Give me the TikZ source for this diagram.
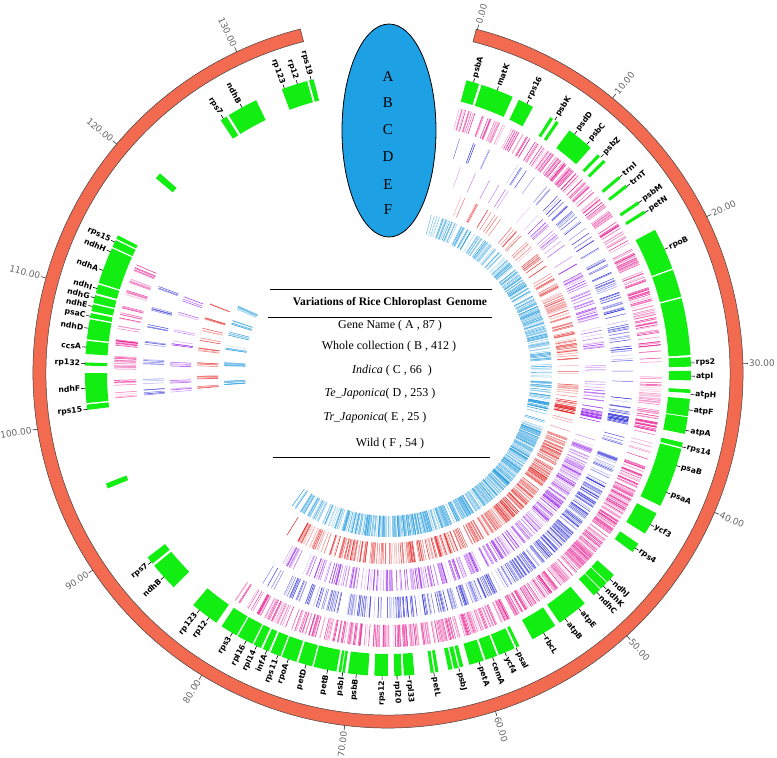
\documentclass[tikz,border=0pt]{standalone}
\usepackage{fontspec}
\setmainfont{Liberation Serif}
\newfontfamily\dejavu{DejaVu Sans}
\definecolor{ringred}{RGB}{242,106,80}
\definecolor{genegreen}{RGB}{18,238,18}
\definecolor{ellblue}{RGB}{30,160,228}
\definecolor{tpink}{RGB}{232,20,140}
\definecolor{tblue}{RGB}{35,35,215}
\definecolor{tpurple}{RGB}{150,35,235}
\definecolor{tred}{RGB}{228,30,30}
\definecolor{tlblue}{RGB}{25,150,220}
% gene sector
\newcommand\gsec[2]{\fill[genegreen] ({90-(#1)}:281pt) arc[start angle={90-(#1)}, end angle={90-(#2)}, radius=281pt] -- ({90-(#2)}:303pt) arc[start angle={90-(#2)}, end angle={90-(#1)}, radius=303pt] -- cycle;}
% gene labels, right and left half
\newcommand\glR[3]{\draw[gtick] ({90-(#1)}:303pt) -- ({90-(#1)}:307pt) node[glab, anchor=west, rotate={90-(#1)}] (#3) {#2};}
\newcommand\glL[3]{\draw[gtick] ({90-(#1)}:303pt) -- ({90-(#1)}:307pt) node[glab, anchor=east, rotate={270-(#1)}] (#3) {#2};}
% variation marks
\newcommand\mk[6]{\foreach \qi in {1,...,#6}{\pgfmathsetmacro\qth{(#4)+rnd*((#5)-(#4))}\pgfmathtruncatemacro\qp{22+78*rnd}\draw[#1!\qp!white, line width=0.5pt] ({90-\qth}:#2pt) -- ({90-\qth}:#3pt);}}
\newcommand\mkd[6]{\foreach \qi in {1,...,#6}{\pgfmathsetmacro\qth{(#4)+rnd*((#5)-(#4))}\pgfmathtruncatemacro\qp{70+30*rnd}\draw[#1!\qp!white, line width=0.6pt] ({90-\qth}:#2pt) -- ({90-\qth}:#3pt);}}
\newcommand\track[5]{\foreach \qa/\qb/\qn in {#4}{\mk{#1}{#2}{#3}{\qa}{\qb}{\qn}}\foreach \qc/\qn in {#5}{\mk{#1}{#2}{#3}{\qc-0.7}{\qc+0.7}{\qn}}}
\begin{document}
\begin{tikzpicture}[x=1pt,y=1pt,
  glab/.style={font=\dejavu\bfseries\fontsize{7.7}{8.5}\selectfont, inner sep=0.8pt},
  gtick/.style={line width=0.6pt, black},
  scalelab/.style={font=\dejavu\fontsize{9}{10}\selectfont, text=black!60, inner sep=0.8pt},
  ctext/.style={font=\fontsize{12}{14}\selectfont, inner sep=0pt},
  rulel/.style={line width=0.9pt, black}]
\useasboundingbox (-388,-385) rectangle (389,373);
\pgfmathsetseed{7}
% outer ring
\draw[fill=ringred, draw=black!75, line width=0.5pt] ({90-14.4}:342pt) arc[start angle={90-14.4}, end angle={90-345.7}, radius=342pt] -- ({90-345.7}:355pt) arc[start angle={90-345.7}, end angle={90-14.4}, radius=355pt] -- cycle;
% scale ticks
\foreach \k in {0,...,6}{\pgfmathsetmacro\qt{14.6+24.63*\k}\pgfmathtruncatemacro\qv{\k*10}
  \draw[line width=0.6pt, black!80] ({90-\qt}:355pt) -- ({90-\qt}:360pt) node[scalelab, anchor=west, rotate={90-\qt}] (s\k) {\qv.00};}
\foreach \k in {7,...,13}{\pgfmathsetmacro\qt{14.6+24.63*\k}\pgfmathtruncatemacro\qv{\k*10}
  \draw[line width=0.6pt, black!80] ({90-\qt}:355pt) -- ({90-\qt}:360pt) node[scalelab, anchor=east, rotate={270-\qt}] (s\k) {\qv.00};}
% variation tracks
\track{tpink}{252}{274}{15/35/50,35/62/95,62/86/90,86/92/4,92/100/30,103/110/6,110/150/230,150/180/150,180/200/80,200/214/35}{292.6/8,289.8/6,287/7,283.9/5,282.1/6,279.4/3,276.5/10,273/8,271.5/8,267.8/5,265.2/4}
\mkd{tpink}{252}{274}{100.3}{102.4}{14}
\track{tblue}{224}{245}{15/40/10,40/62/25,62/86/50,86/92/3,92/100/12,103/110/4,110/150/160,150/180/90,180/200/50,200/212/15}{290/3,285/4,281/3,277/4,272.5/6,268/4,265.5/5}
\mkd{tblue}{224}{245}{100.3}{102.2}{12}
\track{tpurple}{197}{218}{15/45/8,45/62/18,62/86/40,86/92/3,92/100/12,103/110/3,110/150/160,150/180/90,180/200/50,200/211/14}{290/3,286/3,281/3,278/4,272.5/5,268/4,265.5/4}
\mkd{tpurple}{197}{218}{100.3}{102.4}{12}
\track{tred}{170}{191}{15/40/10,40/62/25,62/86/65,86/92/3,92/100/14,103/110/3,110/150/180,150/180/100,180/200/60,200/212/22}{291/3,286.5/5,283/4,280/3,277/5,272.5/6,268.5/5,266/4}
\mkd{tred}{170}{191}{100.3}{102.4}{14}
\track{tlblue}{143}{164}{15/35/45,35/62/80,62/86/90,86/92/10,92/100/25,103/110/5,110/150/220,150/180/160,180/200/90,200/216/35}{293.5/8,288/6,284/6,279/6,273/12,266.5/10}
\mkd{tlblue}{143}{164}{100.2}{102.8}{15}
% gene blocks
\gsec{15.0}{17.5}\gsec{18.0}{24.3}\gsec{25.6}{28.6}
\gsec{32.4}{33.0}\gsec{33.7}{34.3}\gsec{36.8}{42.0}
\gsec{43.8}{44.4}\gsec{45.3}{45.9}\gsec{49.5}{50.1}\gsec{51.6}{52.2}
\gsec{55.5}{56.1}\gsec{57.6}{58.2}
\gsec{61.8}{69.8}\gsec{70.1}{75.4}\gsec{75.7}{86.6}
\gsec{87.0}{88.8}\gsec{89.6}{91.4}\gsec{93.1}{93.8}\gsec{94.9}{98.2}\gsec{98.4}{101.6}
\gsec{103.3}{104.2}\gsec{104.5}{116.0}\gsec{117.6}{122.0}\gsec{124.3}{126.2}
\gsec{131.8}{133.6}\gsec{133.8}{135.4}\gsec{135.6}{137.2}
\gsec{139.5}{145.5}\gsec{146.5}{151.5}
\gsec{154.3}{154.9}\gsec{155.3}{158.5}\gsec{158.9}{161.2}\gsec{161.6}{164.4}
\gsec{165.6}{166.3}\gsec{166.6}{167.4}\gsec{167.7}{168.5}
\gsec{170.4}{171.0}\gsec{171.3}{171.9}
\gsec{175.0}{177.0}\gsec{177.4}{178.8}\gsec{180.0}{182.6}
\gsec{183.8}{187.6}\gsec{188.2}{188.7}\gsec{188.9}{189.4}
\gsec{189.8}{194.2}\gsec{194.5}{197.2}\gsec{197.6}{200.5}\gsec{200.8}{202.8}
\gsec{203.2}{204.4}\gsec{204.8}{206.3}\gsec{206.6}{209.7}\gsec{210.0}{213.3}
\gsec{214.5}{220.0}\gsec{225.0}{230.5}\gsec{231.0}{232.5}
\gsec{247.6}{248.6}
\gsec{263.0}{264.0}\gsec{264.3}{270.0}\gsec{271.4}{272.0}\gsec{273.6}{276.1}
\gsec{276.4}{280.2}\gsec{280.5}{281.4}\gsec{281.8}{283.1}\gsec{283.4}{284.9}
\gsec{285.3}{287.0}\gsec{287.3}{294.3}\gsec{294.6}{296.0}\gsec{296.3}{297.0}
\gsec{310.0}{311.2}\gsec{326.5}{327.8}\gsec{328.3}{334.2}
\gsec{339.5}{344.5}\gsec{344.9}{345.8}
% gene labels
\glR{16.4}{psbA}{g1}\glR{21.1}{matK}{g2}\glR{27.3}{rps16}{g3}\glR{33.4}{psbK}{g4}
\glR{38.0}{psdD}{g5}\glR{41.0}{psbC}{g6}\glR{44.6}{psbZ}{g7}\glR{49.8}{trnI}{g8}
\glR{52.0}{trnT}{g9}\glR{55.8}{psbM}{g10}\glR{58.0}{petN}{g11}\glR{65.9}{rpoB}{g12}
\glR{88.1}{rps2}{g13}\glR{90.6}{atpI}{g14}\glR{94.0}{atpH}{g15}\glR{97.0}{atpF}{g16}
\glR{100.9}{atpA}{g17}\glR{104.1}{rps14}{g18}\glR{107.8}{psaB}{g19}\glR{113.2}{psaA}{g20}
\glR{120.0}{ycf3}{g21}\glR{125.3}{rps4}{g22}\glR{132.9}{ndhJ}{g23}\glR{134.7}{ndhK}{g24}
\glR{136.4}{ndhC}{g25}\glR{141.0}{atpE}{g26}\glR{144.2}{atpB}{g27}\glR{149.1}{rbcL}{g28}
\glR{155.0}{psaI}{g29}\glR{157.3}{ycf4}{g30}\glR{159.8}{cemA}{g31}\glR{162.5}{petA}{g32}
\glR{166.5}{psbJ}{g33}\glR{171.3}{petL}{g34}\glR{176.0}{rpl33}{g35}\glR{178.3}{rpl20}{g36}
\glL{181.1}{rps12}{g37}\glL{186.0}{psbB}{g38}\glL{188.6}{psbI}{g39}\glL{191.5}{petB}{g40}
\glL{195.7}{petD}{g41}\glL{199.2}{rpoA}{g42}\glL{201.3}{rps11}{g43}\glL{203.6}{infA}{g44}
\glL{205.7}{rpl14}{g45}\glL{207.9}{rpl16}{g46}\glL{210.9}{rps3}{g47}
\glL{216.2}{rp12}{g48}\glL{218.5}{rp123}{g49}\glL{227.7}{ndhB}{g50}\glL{231.4}{rps7}{g51}
\glL{263.1}{rps15}{g52}\glL{267.1}{ndhF}{g53}\glL{271.8}{rp132}{g54}\glL{274.9}{ccsA}{g55}
\glL{278.5}{ndhD}{g56}\glL{280.8}{psaC}{g57}\glL{282.7}{ndhE}{g58}\glL{284.4}{ndhG}{g59}
\glL{286.2}{ndhI}{g60}\glL{289.8}{ndhA}{g61}\glL{293.6}{ndhH}{g62}\glL{295.6}{rps15}{g63}
\glL{327.1}{rps7}{g64}\glL{331.2}{ndhB}{g65}\glL{340.0}{rp123}{g66}\glL{342.6}{rp12}{g67}
\glL{345.3}{rps19}{g68}
% legend ellipse
\draw[fill=ellblue, line width=0.8pt] (1,242.5) ellipse [x radius=47, y radius=106.5];
\foreach \L/\Y in {A/296,B/270,C/243,D/216,E/188,F/163}
  \node[font=\fontsize{15}{16}\selectfont, inner sep=0pt] (e\L) at (0,\Y) {\L};
% central table
\draw[rulel] (-118,84) -- (104,84);
\node[font=\bfseries\fontsize{11.5}{13}\selectfont, inner sep=0pt] (title) at (2,70) {Variations of Rice Chloroplast\, Genome};
\draw[rulel] (-120,56) -- (104,56);
\node[ctext] (la) at (2,47) {Gene Name ( A , 87 )};
\node[ctext] (lb) at (1,26) {Whole collection ( B , 412 )};
\node[ctext] (lc) at (4,2) {\textit{Indica} ( C , 66~ )};
\node[ctext] (ld) at (-8,-21) {\textit{Te\_Japonica}( D , 253 )};
\node[ctext] (le) at (-13,-45) {\textit{Tr\_Japonica}( E , 25 )};
\node[ctext] (lf) at (2,-71) {Wild ( F , 54 )};
\draw[rulel] (-115,-84) -- (102,-84);
\end{tikzpicture}
\end{document}
